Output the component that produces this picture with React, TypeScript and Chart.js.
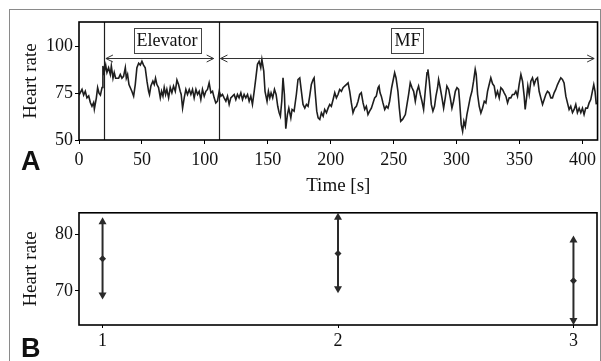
import React, { useEffect, useRef } from "react";
import { Chart, registerables } from "chart.js";

Chart.register(...registerables);

// ---------- Panel A data ----------
const hrTime = [
  0, 2.4, 3.7, 5, 6.3, 7.7, 9, 10.3, 11.6, 12.2, 13.8, 14.8, 15.9, 17, 18.3, 19, 20, 21.2, 22.2, 23.5,
  24.9, 25.7, 27, 28, 29.1, 31.5, 32.8, 34.1, 35.4, 36.8, 37.6, 38.6, 39.7, 40.7, 42, 43.4, 44.7, 46, 47.4, 48.7,
  50, 51.3, 52.6, 54, 55.3, 56, 57.1, 58.7, 59.8, 60.8, 61.9, 63.2, 64.6, 65.6, 66.7, 67.7, 68.8, 69.8, 71.2, 72.5,
  73.8, 75.1, 76.5, 77.8, 79.1, 80.4, 81.2, 82.3, 83.6, 84.9, 86.2, 87.6, 88.9, 90.2, 91.5, 92.9, 94.2, 95.5, 96.8, 98.1,
  99.5, 100.8, 102.1, 103.4, 104.8, 106.1, 107.4, 108.7, 110, 111.4, 112.7, 114, 115.3, 116.7, 118, 119.3, 120.6, 122, 123.3, 124.6,
  125.9, 127.2, 128.6, 129.9, 131.2, 132.5, 133.9, 135.2, 136.5, 137.8, 139.2, 140.5, 141.8, 143.1, 144.4, 145.3, 146.8, 147.8, 149.4, 150.5,
  151.6, 152.6, 153.9, 155.3, 156.6, 157.9, 159, 160, 161.1, 162.1, 163.2, 164.3, 165.6, 166.7, 168.3, 169.3, 170.9, 172.7, 174, 175.4,
  176.7, 178, 179.4, 180.7, 182, 183.3, 184.6, 186, 186.8, 187.8, 188.9, 190, 191.3, 192.6, 194, 195.2, 196.6, 197.9, 199.2, 200.5,
  201.9, 203.2, 204.5, 205.8, 207.1, 208.5, 209.8, 211.1, 212.4, 213.8, 215.1, 216.4, 217.7, 219, 220.4, 221.7, 223, 224.3, 225.7, 227,
  228.3, 229.6, 230.9, 232.3, 233.6, 234.9, 236.2, 237.6, 238.4, 239.2, 240.2, 241.5, 242.9, 244.2, 245.5, 246.8, 248.4, 250.8, 251.9, 253.4,
  254.5, 255.6, 257.1, 259.3, 260.6, 261.9, 263.2, 264.6, 265.9, 267.2, 268.5, 269.8, 271.2, 272.5, 273.8, 275.1, 276.5, 277.2, 278.3, 279.9,
  281.2, 282.5, 283.6, 284.9, 285.7, 287, 288.4, 289.7, 291, 292.3, 293.7, 295, 296.3, 297.6, 299, 300.3, 301.6, 302.4, 303.7, 304.8,
  305.8, 306.9, 308.2, 309.5, 310.8, 312.2, 313.5, 314.8, 315.6, 316.7, 318, 319.3, 320.6, 322, 323.3, 324.6, 325.9, 327.2, 328.6, 329.9,
  331.2, 332.5, 333.9, 335.2, 336.5, 337.8, 339.2, 340.5, 341.8, 343.1, 344.4, 345.8, 347.1, 348.4, 349.7, 351.1, 352.4, 353.7, 354.5, 355.6,
  356.6, 357.7, 359, 360.3, 361.6, 363, 364.3, 365.6, 366.9, 368.3, 369.6, 370.9, 372.2, 373.5, 374.9, 376.2, 377.5, 378.8, 380.2, 381.5,
  382.8, 384.1, 385.4, 386.8, 388.1, 389.4, 390.7, 392.1, 393.4, 394.7, 396, 397.4, 398.7, 400, 401.3, 402.6, 404, 405.3, 406.6, 407.9,
  409, 410, 411,
];

const hrValue = [
  74, 77, 74, 76, 72.5, 73.5, 70, 68, 70, 66.5, 72.5, 78, 75, 74, 78, 89.5, 86, 90, 86, 88.6,
  85, 89.5, 83, 86, 83, 83, 85, 83, 84, 88.6, 83, 85, 79.6, 78, 76, 73.4, 79.6, 88.6, 91, 90,
  92, 90, 88.6, 81.4, 76, 74.3, 78.8, 81.4, 79.6, 83, 79.6, 78, 72.5, 76, 73.4, 78, 74.3, 77, 72.5, 78,
  75.2, 78.8, 76, 82, 79.6, 76, 74.3, 67, 72.5, 77, 74.3, 77, 74.3, 77, 72.5, 77, 74.3, 76, 71.6, 77,
  73.4, 76, 77, 80.5, 75.2, 76, 72.5, 69.8, 70.7, 76, 73.4, 74.3, 72.5, 70.7, 73.4, 69, 72.5, 73.4, 74.3, 71.6,
  74.3, 72.5, 75.2, 71.6, 74.3, 72.5, 74.3, 70.7, 73.4, 69, 76, 83, 90.4, 92, 88.6, 93, 86.8, 76, 70.7, 76,
  72.5, 75.2, 72.5, 77, 74.3, 68, 64.6, 62.7, 70.7, 83.2, 74.3, 56, 63.6, 67, 61.8, 66.3, 65.4, 74.3, 82.3, 83.2,
  76, 69, 67, 69, 68, 73.4, 79.6, 82.3, 83.2, 74.3, 65.4, 61.8, 61, 64.5, 62.7, 66.3, 64.5, 67, 69, 68,
  71.6, 75.2, 72.5, 74.3, 77, 76, 77.9, 78.8, 79.6, 80.5, 76, 69.8, 64.5, 67, 68, 70.7, 74.3, 75.2, 69.8, 66.3,
  68, 63.6, 65.4, 67, 69.8, 72.5, 73.4, 77.9, 78.8, 75.2, 73.4, 69.8, 66.3, 68, 67, 70.7, 77.9, 85.9, 83.2, 76,
  67, 60, 61, 63.6, 69, 74.3, 80.5, 77.9, 76, 70.7, 76, 78.8, 74.3, 70.7, 66.3, 76, 85.9, 87.7, 81.4, 69,
  65.4, 68, 73.4, 77.9, 82.3, 77.9, 72.5, 67, 72.5, 78.8, 77, 72.5, 67, 70.7, 76, 77.9, 77, 70.7, 58.2, 54.6,
  60, 57.3, 63.6, 68, 72.5, 76, 81.4, 87.7, 85, 74.3, 68, 64.5, 67, 70.7, 69.8, 76, 79.6, 83.2, 80, 78.8,
  73.4, 76, 72.5, 77.9, 77, 75.2, 73.4, 69.8, 72.5, 72.5, 74.3, 74.3, 76, 73.4, 79.6, 85, 81.4, 73.4, 66.3, 72.5,
  78.8, 74.3, 81.4, 83.2, 79.6, 82.3, 83.2, 76, 72.5, 69, 71.6, 74.3, 76, 75.2, 72.5, 72.5, 75.2, 77, 79.6, 81.4,
  83.2, 82.3, 80.5, 73.4, 69.8, 66.3, 68, 64.6, 66.3, 69, 64.6, 67, 64.6, 67, 63.6, 67, 67, 69.8, 71.6, 76,
  79.6, 76, 69,
];

const timeTicks = [0, 50, 100, 150, 200, 250, 300, 350, 400];
const hrTicksA = [50, 75, 100];
const phaseBounds = [20, 111];
const phaseNames = ["Elevator", "MF"];
const phaseArrowFrom = [21.4, 112.4];
const phaseArrowTo = [107, 409.3];
const phaseLabelAt = [70, 261];
const phaseArrowHr = 94;

// ---------- Panel B data ----------
const groups = [1, 2, 3];
const groupMean = [75.7, 76.6, 71.8];
const groupUpper = [83.0, 83.8, 79.8];
const groupLower = [68.5, 69.6, 64.0];
const groupTicks = [1, 2, 3];
const hrTicksB = [70, 80];

const SERIF = "'Liberation Serif', 'Times New Roman', serif";
const INK = "#1e1e1e";

const framePlugin = {
  id: "frame",
  afterDraw(chart: any) {
    const { ctx, chartArea } = chart;
    const { left, top, right, bottom } = chartArea;
    ctx.save();
    ctx.strokeStyle = "#000";
    ctx.lineWidth = 1.6;
    ctx.strokeRect(left, top, right - left, bottom - top);
    ctx.restore();
  },
};

const phasePlugin = {
  id: "phases",
  afterDatasetsDraw(chart: any) {
    const { ctx, chartArea, scales } = chart;
    const xs = scales.x;
    const ys = scales.y;
    ctx.save();
    ctx.strokeStyle = INK;
    ctx.lineWidth = 1.2;
    phaseBounds.forEach((t) => {
      const x = Math.round(xs.getPixelForValue(t)) + 0.5;
      ctx.beginPath();
      ctx.moveTo(x, chartArea.top);
      ctx.lineTo(x, chartArea.bottom);
      ctx.stroke();
    });
    const ay = Math.round(ys.getPixelForValue(phaseArrowHr)) + 0.5;
    phaseNames.forEach((name, i) => {
      const x1 = xs.getPixelForValue(phaseArrowFrom[i]);
      const x2 = xs.getPixelForValue(phaseArrowTo[i]);
      ctx.strokeStyle = "#333";
      ctx.lineWidth = 1;
      ctx.beginPath();
      ctx.moveTo(x1, ay);
      ctx.lineTo(x2, ay);
      ctx.moveTo(x1 + 7, ay - 3.5);
      ctx.lineTo(x1, ay);
      ctx.lineTo(x1 + 7, ay + 3.5);
      ctx.moveTo(x2 - 7, ay - 3.5);
      ctx.lineTo(x2, ay);
      ctx.lineTo(x2 - 7, ay + 3.5);
      ctx.stroke();
      ctx.font = `18px ${SERIF}`;
      const tw = ctx.measureText(name).width;
      const cx = xs.getPixelForValue(phaseLabelAt[i]);
      const cy = ay - 18;
      const bw = tw + 6;
      const bh = 25;
      ctx.fillStyle = "#fff";
      ctx.fillRect(cx - bw / 2, cy - bh / 2, bw, bh);
      ctx.strokeStyle = "#444";
      ctx.lineWidth = 1;
      ctx.strokeRect(Math.round(cx - bw / 2) + 0.5, Math.round(cy - bh / 2) + 0.5, Math.round(bw), bh);
      ctx.fillStyle = "#111";
      ctx.textAlign = "center";
      ctx.textBaseline = "middle";
      ctx.fillText(name, cx, cy + 1);
    });
    ctx.restore();
  },
};

const errorBarPlugin = {
  id: "errorBars",
  afterDatasetsDraw(chart: any) {
    const { ctx, scales } = chart;
    const xs = scales.x;
    const ys = scales.y;
    ctx.save();
    ctx.strokeStyle = "#2a2a2a";
    ctx.fillStyle = "#2a2a2a";
    ctx.lineWidth = 2;
    groups.forEach((g, i) => {
      const x = xs.getPixelForValue(g);
      const yu = ys.getPixelForValue(groupUpper[i]);
      const yl = ys.getPixelForValue(groupLower[i]);
      ctx.beginPath();
      ctx.moveTo(x, yu + 3);
      ctx.lineTo(x, yl - 3);
      ctx.stroke();
      ctx.beginPath();
      ctx.moveTo(x, yu);
      ctx.lineTo(x - 4, yu + 7);
      ctx.lineTo(x + 4, yu + 7);
      ctx.closePath();
      ctx.fill();
      ctx.beginPath();
      ctx.moveTo(x, yl);
      ctx.lineTo(x - 4, yl - 7);
      ctx.lineTo(x + 4, yl - 7);
      ctx.closePath();
      ctx.fill();
    });
    ctx.restore();
  },
};

function tickFont() {
  return { family: SERIF, size: 18 };
}

export default function App() {
  const refA = useRef<HTMLCanvasElement | null>(null);
  const refB = useRef<HTMLCanvasElement | null>(null);

  useEffect(() => {
    const chartA = new Chart(refA.current as HTMLCanvasElement, {
      type: "line",
      data: {
        datasets: [
          {
            data: hrTime.map((t, i) => ({ x: t, y: hrValue[i] })),
            borderColor: INK,
            borderWidth: 1.6,
            pointRadius: 0,
            tension: 0,
            fill: false,
          },
        ],
      },
      options: {
        responsive: false,
        animation: false,
        devicePixelRatio: 1,
        layout: { padding: { left: 0, right: 2, top: 22, bottom: 0 } },
        plugins: { legend: { display: false }, tooltip: { enabled: false } },
        scales: {
          x: {
            type: "linear",
            min: 0,
            max: 412,
            afterBuildTicks: (s: any) => {
              s.ticks = timeTicks.map((v) => ({ value: v }));
            },
            afterFit: (s: any) => {
              s.height = 60;
            },
            border: { display: false },
            grid: { display: true, drawOnChartArea: false, drawTicks: true, tickLength: 4, color: "#000", lineWidth: 1 },
            ticks: { font: tickFont(), color: "#111", padding: 5, maxRotation: 0 },
            title: {
              display: true,
              text: "Time [s]",
              font: { family: SERIF, size: 19 },
              color: "#111",
              padding: { top: 0, bottom: 3 },
            },
          },
          y: {
            min: 50,
            max: 113,
            afterBuildTicks: (s: any) => {
              s.ticks = hrTicksA.map((v) => ({ value: v }));
            },
            afterFit: (s: any) => {
              s.width = 79;
            },
            border: { display: false },
            grid: { display: true, drawOnChartArea: false, drawTicks: true, tickLength: 4, color: "#000", lineWidth: 1 },
            ticks: { font: tickFont(), color: "#111", padding: 2 },
            title: {
              display: true,
              text: "Heart rate",
              font: { family: SERIF, size: 19 },
              color: "#111",
              padding: { top: 20, bottom: 0 },
            },
          },
        },
      },
      plugins: [phasePlugin, framePlugin],
    } as any);

    const chartB = new Chart(refB.current as HTMLCanvasElement, {
      type: "scatter",
      data: {
        datasets: [
          {
            data: groups.map((g, i) => ({ x: g, y: groupMean[i] })),
            pointStyle: "rectRot",
            pointRadius: 3.5,
            backgroundColor: "#2a2a2a",
            borderColor: "#2a2a2a",
            borderWidth: 0,
          },
        ],
      },
      options: {
        responsive: false,
        animation: false,
        devicePixelRatio: 1,
        layout: { padding: { left: 0, right: 2, top: 6, bottom: 0 } },
        plugins: { legend: { display: false }, tooltip: { enabled: false } },
        scales: {
          x: {
            type: "linear",
            min: 0.9,
            max: 3.1,
            afterBuildTicks: (s: any) => {
              s.ticks = groupTicks.map((v) => ({ value: v }));
            },
            afterFit: (s: any) => {
              s.height = 36;
            },
            border: { display: false },
            grid: { display: true, drawOnChartArea: false, drawTicks: true, tickLength: 3, color: "#000", lineWidth: 1 },
            ticks: { font: tickFont(), color: "#111", padding: 2, maxRotation: 0 },
          },
          y: {
            min: 64,
            max: 83.8,
            afterBuildTicks: (s: any) => {
              s.ticks = hrTicksB.map((v) => ({ value: v }));
            },
            afterFit: (s: any) => {
              s.width = 79;
            },
            border: { display: false },
            grid: { display: true, drawOnChartArea: false, drawTicks: true, tickLength: 4, color: "#000", lineWidth: 1 },
            ticks: { font: tickFont(), color: "#111", padding: 2 },
            title: {
              display: true,
              text: "Heart rate",
              font: { family: SERIF, size: 19 },
              color: "#111",
              padding: { top: 20, bottom: 0 },
            },
          },
        },
      },
      plugins: [errorBarPlugin, framePlugin],
    } as any);

    return () => {
      chartA.destroy();
      chartB.destroy();
    };
  }, []);

  const panelLetter: React.CSSProperties = {
    position: "absolute",
    left: 21,
    fontFamily: "'Liberation Sans', Arial, sans-serif",
    fontWeight: 700,
    fontSize: 27,
    lineHeight: "27px",
    color: "#111",
  };

  return (
    <div
      style={{
        position: "absolute",
        left: 0,
        top: 0,
        width: 601,
        height: 361,
        overflow: "hidden",
        background: "#fff",
      }}
    >
      <div
        style={{
          position: "absolute",
          left: 9,
          top: 9,
          width: 590,
          height: 400,
          borderLeft: "1px solid #8a8a8a",
          borderTop: "1px solid #8a8a8a",
          borderRight: "1px solid #8a8a8a",
        }}
      />
      <canvas
        ref={refA}
        width={601}
        height={200}
        style={{ position: "absolute", left: 0, top: 0, width: 601, height: 200, display: "block" }}
      />
      <canvas
        ref={refB}
        width={601}
        height={161}
        style={{ position: "absolute", left: 0, top: 200, width: 601, height: 161, display: "block" }}
      />
      <div style={{ ...panelLetter, top: 148 }}>A</div>
      <div style={{ ...panelLetter, top: 335 }}>B</div>
    </div>
  );
}
